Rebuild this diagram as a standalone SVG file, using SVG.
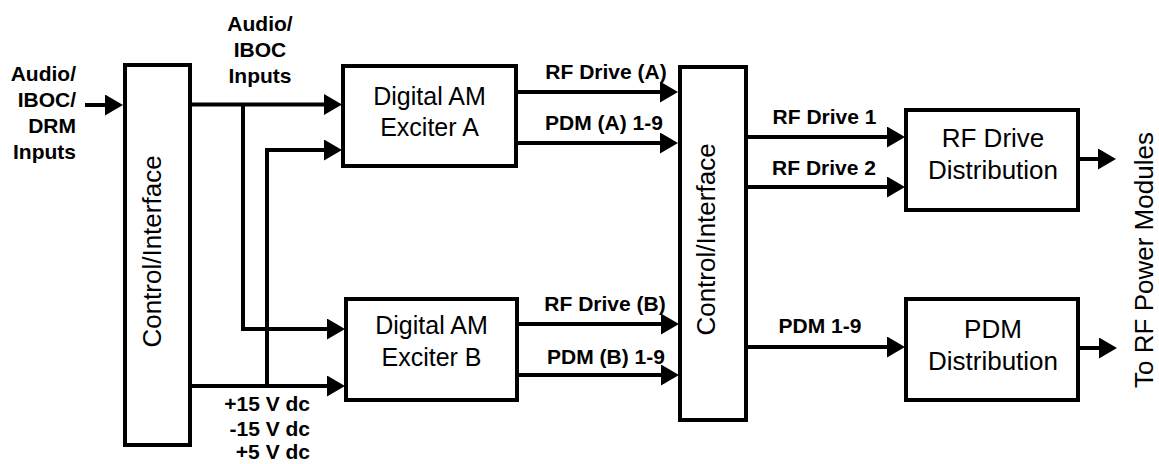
<svg xmlns="http://www.w3.org/2000/svg" width="1159" height="464" viewBox="0 0 1159 464">
<style>
.box{fill:#fff;stroke:#000;stroke-width:4}
.ln{fill:none;stroke:#000;stroke-width:4;stroke-linejoin:miter;marker-end:url(#ah)}
.b{font-family:"Liberation Sans",Arial,sans-serif;font-weight:bold;font-size:21px;fill:#000}
.r{font-family:"Liberation Sans",Arial,sans-serif;font-size:26px;fill:#000}
.rx{font-family:"Liberation Sans",Arial,sans-serif;font-size:25px;fill:#000}
</style>
<defs>
<marker id="ah" markerUnits="userSpaceOnUse" markerWidth="18" markerHeight="21" refX="8" refY="10.5" orient="auto" viewBox="0 0 18 21">
<path d="M0,0 L18,10.5 L0,21 z" fill="#000"/>
</marker>
</defs>
<rect width="1159" height="464" fill="#fff"/>

<g id="ctrl-left">
<rect class="box" x="125" y="65" width="65" height="380"/>
<text class="r" text-anchor="middle" transform="translate(161,251.5) rotate(-90)">Control/Interface</text>
</g>
<g id="exciter-a">
<rect class="box" x="343" y="66" width="173" height="100"/>
<text class="rx" text-anchor="middle" x="429.5" y="105">Digital AM</text>
<text class="rx" text-anchor="middle" x="429.5" y="136">Exciter A</text>
</g>
<g id="exciter-b">
<rect class="box" x="346" y="299" width="171" height="101"/>
<text class="rx" text-anchor="middle" x="431.5" y="334">Digital AM</text>
<text class="rx" text-anchor="middle" x="431.5" y="366">Exciter B</text>
</g>
<g id="ctrl-right">
<rect class="box" x="680" y="67" width="66" height="353"/>
<text class="r" text-anchor="middle" transform="translate(715,239.5) rotate(-90)">Control/Interface</text>
</g>
<g id="rf-dist">
<rect class="box" x="906" y="110" width="172" height="100"/>
<text class="r" text-anchor="middle" x="993" y="147">RF Drive</text>
<text class="r" text-anchor="middle" x="993" y="179">Distribution</text>
</g>
<g id="pdm-dist">
<rect class="box" x="906" y="299" width="172" height="101"/>
<text class="r" text-anchor="middle" x="993" y="338">PDM</text>
<text class="r" text-anchor="middle" x="993" y="370">Distribution</text>
</g>

<g id="connectors">
<path class="ln" d="M85,105 H113"/>
<path class="ln" d="M190,104.5 H332"/>
<polyline class="ln" points="243,104.5 243,329 335,329"/>
<polyline class="ln" points="267,386 267,150 332,150"/>
<path class="ln" d="M190,386 H335"/>
<path class="ln" d="M516,92 H668"/>
<path class="ln" d="M516,143 H668"/>
<path class="ln" d="M517,324 H669"/>
<path class="ln" d="M517,375 H669"/>
<path class="ln" d="M746,137 H895"/>
<path class="ln" d="M746,187 H895"/>
<path class="ln" d="M746,347 H895"/>
<path class="ln" d="M1078,159 H1106"/>
<path class="ln" d="M1078,348 H1107"/>
</g>

<g id="labels">
<text class="b" text-anchor="end" x="76" y="81">Audio/</text>
<text class="b" text-anchor="end" x="76" y="107">IBOC/</text>
<text class="b" text-anchor="end" x="76" y="133">DRM</text>
<text class="b" text-anchor="end" x="76" y="159">Inputs</text>
<text class="b" text-anchor="middle" x="260" y="31">Audio/</text>
<text class="b" text-anchor="middle" x="260" y="57">IBOC</text>
<text class="b" text-anchor="middle" x="260" y="83">Inputs</text>
<text class="b" text-anchor="end" x="310" y="411">+15 V dc</text>
<text class="b" text-anchor="end" x="310" y="436">-15 V dc</text>
<text class="b" text-anchor="end" x="310" y="459">+5 V dc</text>
<text class="b" text-anchor="middle" x="606" y="79">RF Drive (A)</text>
<text class="b" text-anchor="middle" x="604" y="130">PDM (A) 1-9</text>
<text class="b" text-anchor="middle" x="605" y="311">RF Drive (B)</text>
<text class="b" text-anchor="middle" x="606" y="364">PDM (B) 1-9</text>
<text class="b" text-anchor="middle" x="824.5" y="124">RF Drive 1</text>
<text class="b" text-anchor="middle" x="824" y="175">RF Drive 2</text>
<text class="b" text-anchor="middle" x="820" y="333">PDM 1-9</text>
<text class="r" text-anchor="middle" transform="translate(1153,260) rotate(-90)">To RF Power Modules</text>
</g>
</svg>
